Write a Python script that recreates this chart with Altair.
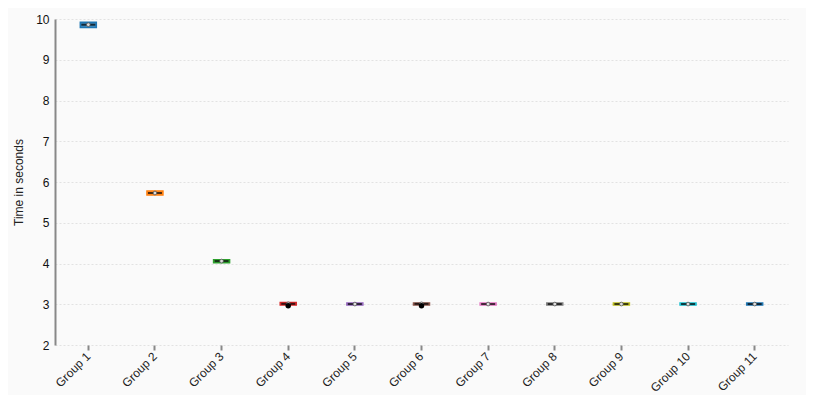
import altair as alt
import pandas as pd

groups = [f"Group {i}" for i in range(1, 12)]
q1 = [9.79, 5.68, 4.02, 2.98, 2.98, 2.98, 2.98, 2.98, 2.98, 2.98, 2.98]
q3 = [9.92, 5.78, 4.09, 3.04, 3.03, 3.03, 3.03, 3.03, 3.03, 3.03, 3.03]
median = [9.86, 5.73, 4.06, 3.01, 3.005, 3.01, 3.005, 3.005, 3.005, 3.005, 3.005]
mean = [9.86, 5.73, 4.06, 3.01, 3.005, 3.01, 3.005, 3.005, 3.005, 3.005, 3.005]
outlier_groups = ["Group 4", "Group 6"]
outlier_values = [2.965, 2.965]
colors = ["#1f77b4", "#ff7f0e", "#2ca02c", "#d62728", "#9467bd", "#8c564b",
          "#e377c2", "#7f7f7f", "#bcbd22", "#17becf", "#1f77b4"]

df = pd.DataFrame({"group": groups, "q1": q1, "q3": q3, "median": median, "mean": mean})
out = pd.DataFrame({"group": outlier_groups, "value": outlier_values})

FONT = "Liberation Sans"
x = alt.X("group:N", sort=groups, title=None,
          scale=alt.Scale(paddingInner=0, paddingOuter=0),
          axis=alt.Axis(labelAngle=-45, labelAlign="right", labelBaseline="middle",
                        labelFontSize=12, labelFont=FONT, labelColor="#222",
                        domain=False, tickColor="#888", tickWidth=2, tickSize=5,
                        labelPadding=4, grid=False))
yscale = alt.Scale(domain=[2, 10], nice=False, zero=False)
yaxis = alt.Axis(title="Time in seconds", titleFont=FONT, titleFontSize=12,
                 titleFontWeight="normal", titleColor="#222", titlePadding=10,
                 labelFontSize=12, labelFont=FONT, labelColor="#111",
                 values=list(range(2, 11)), format="d",
                 domainColor="#888", domainWidth=2, ticks=False, labelPadding=6,
                 grid=True, gridColor="#e2e2e2", gridDash=[2, 2], gridWidth=1)
color = alt.Color("group:N", scale=alt.Scale(domain=groups, range=colors), legend=None)

box = alt.Chart(df).mark_bar(size=16, fillOpacity=0.85, strokeWidth=1.5).encode(
    x=x, y=alt.Y("q1:Q", scale=yscale, axis=yaxis), y2="q3:Q",
    color=color, stroke=color)
med = alt.Chart(df).mark_tick(size=14, thickness=2, color="black").encode(
    x=alt.X("group:N", sort=groups), y="median:Q")
mn = alt.Chart(df).mark_point(filled=True, size=14, color="#ddd", stroke="#555",
                              strokeWidth=0.8, opacity=1).encode(
    x=alt.X("group:N", sort=groups), y="mean:Q")
outl = alt.Chart(out).mark_point(filled=True, size=30, color="black", opacity=1).encode(
    x=alt.X("group:N", sort=groups), y="value:Q")

chart = alt.layer(box, med, mn, outl).properties(
    width=733, height=326,
    autosize=alt.AutoSizeParams(type="none"),
    padding={"left": 47, "top": 11, "right": 18, "bottom": 50},
    background="#fafafa",
).configure_view(stroke=None)

chart.save("out.html", embed_options={"renderer": "svg", "actions": False})
